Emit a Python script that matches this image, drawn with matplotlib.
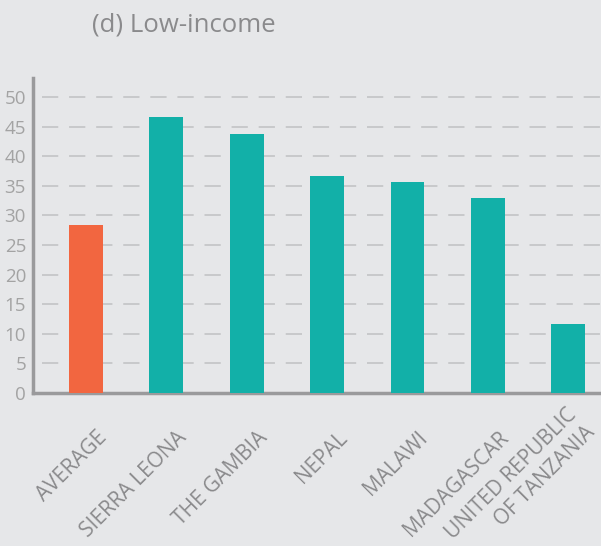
import matplotlib
matplotlib.use("Agg")
import matplotlib.pyplot as plt
import matplotlib.transforms as mtransforms

categories = ["AVERAGE", "SIERRA LEONA", "THE GAMBIA", "NEPAL", "MALAWI",
              "MADAGASCAR", "UNITED REPUBLIC\nOF TANZANIA"]
values = [28.4, 46.6, 43.7, 36.7, 35.6, 32.9, 11.7]
yticks = [0, 5, 10, 15, 20, 25, 30, 35, 40, 45, 50]
title = "(d) Low-income"

bg = "#e6e7e9"
orange = "#f26640"
teal = "#12b0a8"
gray_txt = "#a3a3a3"

plt.rcParams['font.family'] = ['Open Sans', 'DejaVu Sans']

fig = plt.figure(figsize=(6.01, 5.46), dpi=100, facecolor=bg)
ax = fig.add_axes([0.0549, 0.2802, 0.9451, 0.5768], facecolor=bg)

colors = [orange] + [teal] * (len(values) - 1)
x = list(range(len(values)))
ax.bar(x, values, width=0.42, color=colors, zorder=3)

ax.set_xlim(-0.66, 6.41)
ax.set_ylim(0, 53.2)
ax.set_yticks(yticks)
ax.set_yticklabels([str(v) for v in yticks], fontsize=13.5, color=gray_txt)
ax.tick_params(axis='y', length=0, pad=5)
ax.tick_params(axis='x', length=0)

for y in yticks[1:]:
    ax.axhline(y, xmin=0.015, xmax=1, color="#c5c6c8", lw=1.3,
               dashes=(9, 6), zorder=1)

for s in ['top', 'right']:
    ax.spines[s].set_visible(False)
for s in ['left', 'bottom']:
    ax.spines[s].set_color("#9a9a9c")
    ax.spines[s].set_linewidth(2.5)

ax.set_xticks(x)
ax.set_xticklabels([])
for xi, lab in zip(x, categories):
    multi = "\n" in lab
    dx = 0.31 if multi else 0.25
    dy = -0.44 if multi else -0.49
    offset = mtransforms.ScaledTranslation(dx, dy, fig.dpi_scale_trans)
    trans = ax.get_xaxis_transform() + offset
    ax.text(xi, 0, lab, transform=trans, rotation=45, rotation_mode='anchor',
            ha='right', va='bottom', fontsize=15, color="#8a8a8c",
            multialignment='right', linespacing=1.3)

fig.text(92 / 601, 1 - 25 / 546, title, fontsize=18.5, color="#8a8a8c",
         ha='left', va='center')

fig.savefig("out.png", dpi=100, facecolor=bg)
